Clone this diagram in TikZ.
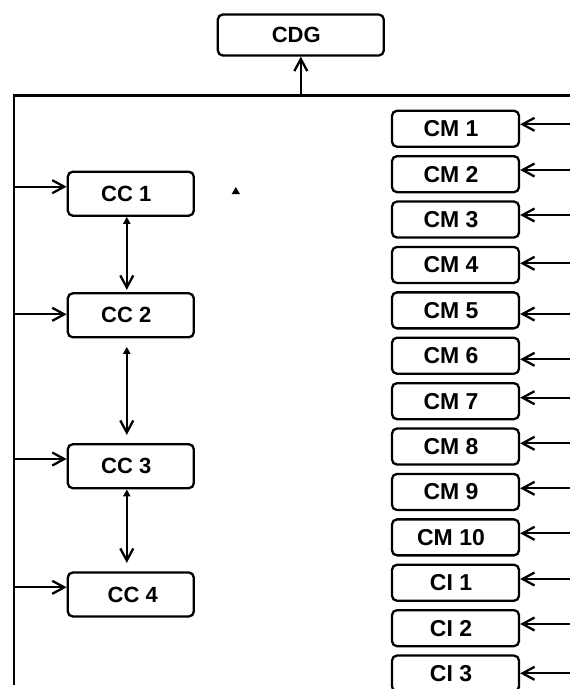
\documentclass[tikz,border=0pt]{standalone}
\usepackage{fontspec}
\setmainfont{Liberation Sans}
\usetikzlibrary{arrows.meta, positioning, calc}

\begin{document}
\begin{tikzpicture}[x=1pt, y=-1pt, line width=2.3pt,
    box/.style={draw, rounded corners=5pt, inner sep=0pt, font=\fontsize{22}{24}\selectfont\bfseries,
      execute at begin node={\hspace{-9pt}}},
    ccbox/.style={box, minimum width=126pt, minimum height=44pt},
    cmbox/.style={box, minimum width=127pt, minimum height=36pt, font=\fontsize{23}{25}\selectfont\bfseries},
    feed/.style={-{Straight Barb[length=12pt,width=13pt]}},
    link/.style={{Triangle[length=7pt,width=7pt]}-{Straight Barb[length=12pt,width=13pt]}}]
    \useasboundingbox (0,0) rectangle (570,689);

    % CDG
    \node[box, minimum width=166pt, minimum height=41pt] (cdg) at (300.8,35) {CDG};

    % bus
    \coordinate (busend) at (14,685);
    \coordinate (buscorner) at (14,95.5);
    \coordinate (busright) at (570,95.5);
    \draw (busend) -- (buscorner) -- (busright);
    \draw[feed] (cdg.south |- buscorner) -- (cdg.south);

    % CC 1 - CC 4
    \node[ccbox] (cc1) at (130.8,193.7) {CC 1};
    \node[ccbox] (cc2) at (130.8,315.3) {CC 2};
    \node[ccbox] (cc3) at (130.8,466.2) {CC 3};
    \node[ccbox, execute at begin node={\hspace{13pt}}] (cc4) at (130.8,594.5) {CC 4};
    \foreach \n/\y in {1/186.7, 2/314.3, 3/459, 4/587.3} {
      \coordinate (f\n) at (14,\y);
      \draw[feed] (f\n) -- (f\n -| cc\n.west);
    }
    \draw[link, shorten >=2.3pt] ([xshift=-4pt]cc1.south) -- ([xshift=-4pt]cc2.north);
    \draw[link, shorten <=8.4pt, shorten >=8.2pt] ([xshift=-4pt]cc2.south) -- ([xshift=-4pt]cc3.north);
    \draw[link, shorten >=8.5pt] ([xshift=-4pt]cc3.south) -- ([xshift=-4pt]cc4.north);
    \fill (231.7,194) -- (240,194) -- (235.8,187) -- cycle;

    % CM 1 - CM 10, CI 1 - CI 3
    \foreach \i/\lbl/\ay [count=\k from 0] in {1/CM 1/124.3, 2/CM 2/170, 3/CM 3/215, 4/CM 4/263.3,
        5/CM 5/314, 6/CM 6/359.3, 7/CM 7/397.7, 8/CM 8/443.3, 9/CM 9/488.3, 10/CM 10/533.3,
        11/CI 1/579, 12/CI 2/624, 13/CI 3/673.3} {
      \node[cmbox] (cm\i) at (455.5,{128.75+45.4*\k}) {\lbl};
      \coordinate (in\i) at (570,\ay);
      \draw[feed] (in\i) -- (in\i -| cm\i.east);
    }
\end{tikzpicture}
\end{document}
